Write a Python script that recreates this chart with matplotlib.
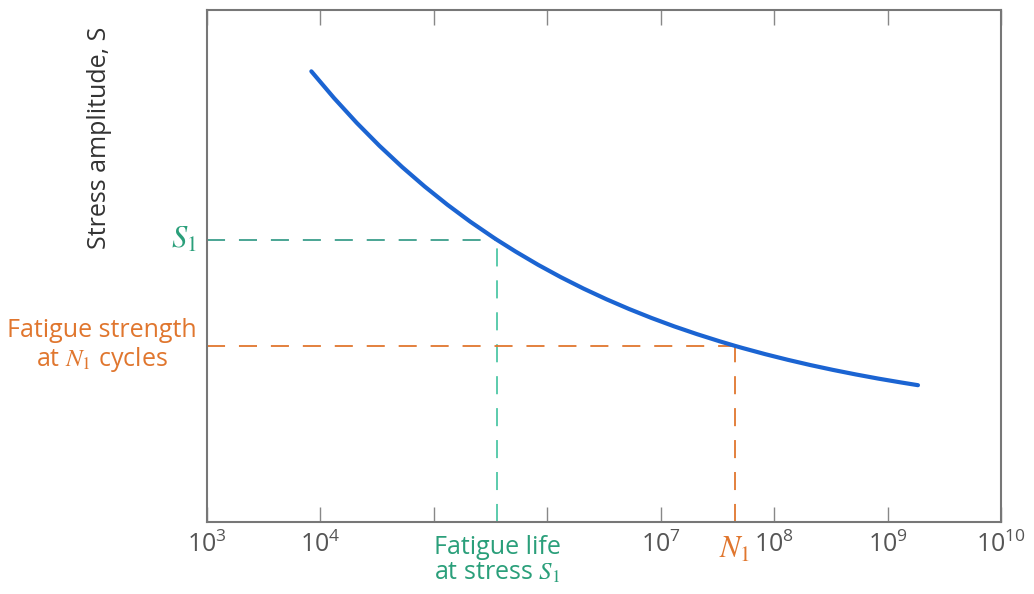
import numpy as np
import matplotlib
matplotlib.use("Agg")
import matplotlib.pyplot as plt
from matplotlib.ticker import FixedLocator, FixedFormatter, NullLocator

plt.rcParams['font.family'] = ['Open Sans', 'DejaVu Sans']
plt.rcParams['mathtext.fontset'] = 'stix'
plt.rcParams['lines.scale_dashes'] = False

# S-N curve (log10 of cycles, relative stress)
log_n = [3.92, 4.12, 4.32, 4.52, 4.72, 4.92, 5.12, 5.32, 5.52, 5.557,
         5.72, 5.92, 6.12, 6.32, 6.52, 6.72, 6.92, 7.12, 7.32, 7.52, 7.655,
         7.72, 7.92, 8.12, 8.32, 8.52, 8.72, 8.92, 9.12, 9.268]
stress = [0.8802, 0.8280, 0.7796, 0.7348, 0.6934, 0.6551, 0.6196, 0.5867, 0.5564, 0.551,
          0.5283, 0.5022, 0.4781, 0.4558, 0.4352, 0.4161, 0.3984, 0.3820, 0.3669, 0.3529, 0.344,
          0.3399, 0.3279, 0.3168, 0.3065, 0.2970, 0.2882, 0.2800, 0.2725, 0.2672]

s1 = 0.551
life_s1 = 10 ** 5.557
n1 = 10 ** 7.655
strength_n1 = 0.344

tick_pos = [1e3, 1e4, 1e5, 1e6, 1e7, 1e8, 1e9, 1e10]
tick_lab = [r'$\mathregular{10^{3}}$', r'$\mathregular{10^{4}}$', '', '',
            r'$\mathregular{10^{7}}$', r'$\mathregular{10^{8}}$',
            r'$\mathregular{10^{9}}$', r'$\mathregular{10^{10}}$']

blue = '#1b64d2'
teal_h = '#3c9e8b'
teal_v = '#4ec7a6'
teal_txt = '#2a9f7a'
orange = '#e0762e'
grey = '#555555'

fig = plt.figure(figsize=(10.34, 5.94), dpi=100)
ax = fig.add_axes([207 / 1034, 72 / 594, 794 / 1034, 512 / 594])

ax.set_xscale('log')
ax.set_xlim(1e3, 1e10)
ax.set_ylim(0, 1)

ax.plot(10 ** np.array(log_n), stress, color=blue, lw=3.0, solid_capstyle='round',
        solid_joinstyle='round', zorder=3)

# dashed guides, drawn from the axes edges outward
ax.plot([1e3, life_s1], [s1, s1], color=teal_h, lw=1.3, dashes=(13, 10), zorder=2)
ax.plot([life_s1, life_s1], [0, s1], color=teal_v, lw=1.3, dashes=(13, 10), zorder=2)
ax.plot([1e3, n1], [strength_n1, strength_n1], color=orange, lw=1.3, dashes=(13, 10), zorder=2)
ax.plot([n1, n1], [0, strength_n1], color=orange, lw=1.3, dashes=(13, 10), zorder=2)

for sp in ax.spines.values():
    sp.set_color('#777777')
    sp.set_linewidth(1.5)

ax.xaxis.set_major_locator(FixedLocator(tick_pos))
ax.xaxis.set_major_formatter(FixedFormatter(tick_lab))
ax.xaxis.set_minor_locator(NullLocator())
ax.tick_params(axis='x', which='major', direction='in', length=11, width=1,
               color='#888888', top=True, labelsize=18, labelcolor=grey, pad=7)
ax.set_yticks([])

ax.text(-0.135, 0.75, 'Stress amplitude, S', rotation=90, transform=ax.transAxes,
        ha='center', va='center', fontsize=18, color='#333333')

ax.text(-0.013, s1, r'$S_1$', transform=ax.get_yaxis_transform(), ha='right',
        va='center', fontsize=22, color=teal_txt)
ax.text(-0.013, strength_n1, 'Fatigue strength\nat $N_1$ cycles',
        transform=ax.get_yaxis_transform(), ha='right', va='center',
        multialignment='center', fontsize=18, color=orange, linespacing=1.1)

ax.text(life_s1, -0.025, 'Fatigue life\nat stress $S_1$', transform=ax.get_xaxis_transform(),
        ha='center', va='top', multialignment='center', fontsize=18, color=teal_txt,
        linespacing=1.05)
ax.text(n1, -0.025, r'$N_1$', transform=ax.get_xaxis_transform(), ha='center',
        va='top', fontsize=22, color=orange)

fig.savefig('out.png', dpi=100, facecolor='white')
